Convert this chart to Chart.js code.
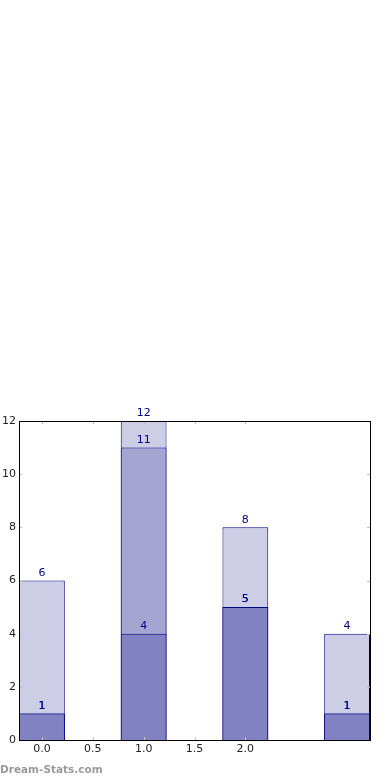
<!DOCTYPE html>
<html>
<head>
<meta charset="utf-8">
<script src="https://cdn.jsdelivr.net/npm/chart.js@4/dist/chart.umd.min.js"></script>
<style>
    body { margin: 0; background: #fff; }
    #wrap { position: relative; width: 390px; height: 780px; }
    #mark {
        position: absolute; left: 0; top: 763px;
        font: bold 10.5px "DejaVu Sans", sans-serif; color: #9a9a9a;
    }
</style>
</head>
<body>
<div id="wrap">
    <canvas id="chart" width="390" height="780"></canvas>
    <div id="mark">Dream-Stats.com</div>
</div>
<script>
// Data
const positions = [0, 1, 2, 3];
const lowValues = [1, 4, 5, 1];
const midValues = [1, 11, 5, 1];
const topValues = [6, 12, 8, 4];
const xTickValues = [0, 0.5, 1, 1.5, 2];
const yTickValues = [0, 2, 4, 6, 8, 10, 12];

const toPoints = vals => vals.map((v, i) => ({ x: positions[i], y: v }));

// Inward ticks and frame, like the original plot
const framePlugin = {
    id: 'frame',
    afterDraw(chart) {
        const { ctx, chartArea: a, scales } = chart;
        ctx.save();
        ctx.strokeStyle = '#c0c0c0';
        ctx.lineWidth = 1;
        xTickValues.forEach(v => {
            const px = Math.round(scales.x.getPixelForValue(v)) + 0.5;
            ctx.beginPath();
            ctx.moveTo(px, a.bottom); ctx.lineTo(px, a.bottom - 3);
            ctx.moveTo(px, a.top); ctx.lineTo(px, a.top + 3);
            ctx.stroke();
        });
        yTickValues.forEach(v => {
            const py = Math.round(scales.y.getPixelForValue(v)) + 0.5;
            ctx.beginPath();
            ctx.moveTo(a.left, py); ctx.lineTo(a.left + 3, py);
            ctx.moveTo(a.right, py); ctx.lineTo(a.right - 3, py);
            ctx.stroke();
        });
        ctx.strokeStyle = '#000';
        ctx.strokeRect(Math.round(a.left) + 0.5, Math.round(a.top) + 0.5,
            Math.round(a.right - a.left), Math.round(a.bottom - a.top));
        ctx.restore();
    }
};

// Value labels above every bar
const labelPlugin = {
    id: 'barLabels',
    afterDatasetsDraw(chart) {
        const { ctx } = chart;
        ctx.save();
        ctx.font = '11px "DejaVu Sans", sans-serif';
        ctx.fillStyle = '#00008b';
        ctx.textAlign = 'center';
        ctx.textBaseline = 'bottom';
        chart.data.datasets.forEach((ds, di) => {
            chart.getDatasetMeta(di).data.forEach((bar, i) => {
                ctx.fillText(String(ds.data[i].y), bar.x, bar.y - 2);
            });
        });
        ctx.restore();
    }
};

new Chart(document.getElementById('chart'), {
    type: 'bar',
    data: {
        datasets: [
            { data: toPoints(lowValues), backgroundColor: '#8282c2' },
            { data: toPoints(midValues), backgroundColor: '#a5a5d1' },
            { data: toPoints(topValues), backgroundColor: '#cdcde5' }
        ].map(ds => Object.assign(ds, {
            borderColor: '#000080',
            borderWidth: 1,
            grouped: false,
            // tick spacing (0.5) sets the sample size, so 0.9 gives a 0.45-wide bar
            barPercentage: 0.9,
            categoryPercentage: 1
        }))
    },
    options: {
        responsive: false,
        animation: false,
        layout: { padding: { top: 421, right: 20, left: 0, bottom: 0 } },
        plugins: { legend: { display: false }, tooltip: { enabled: false } },
        scales: {
            x: {
                type: 'linear',
                min: -0.225,
                max: 3.225,
                offset: false,
                afterBuildTicks: s => { s.ticks = xTickValues.map(v => ({ value: v })); },
                afterFit: s => { s.height = 40; },
                grid: { display: false, drawTicks: false },
                border: { display: false },
                ticks: {
                    color: '#222',
                    font: { family: 'DejaVu Sans', size: 11 },
                    padding: 3,
                    maxRotation: 0,
                    callback: v => Number(v).toFixed(1)
                }
            },
            y: {
                min: 0,
                max: 12,
                afterBuildTicks: s => { s.ticks = yTickValues.map(v => ({ value: v })); },
                afterFit: s => { s.width = 19; },
                grid: { display: false, drawTicks: false },
                border: { display: false },
                ticks: {
                    color: '#222',
                    font: { family: 'DejaVu Sans', size: 11 },
                    padding: 3
                }
            }
        }
    },
    plugins: [framePlugin, labelPlugin]
});
</script>
</body>
</html>
